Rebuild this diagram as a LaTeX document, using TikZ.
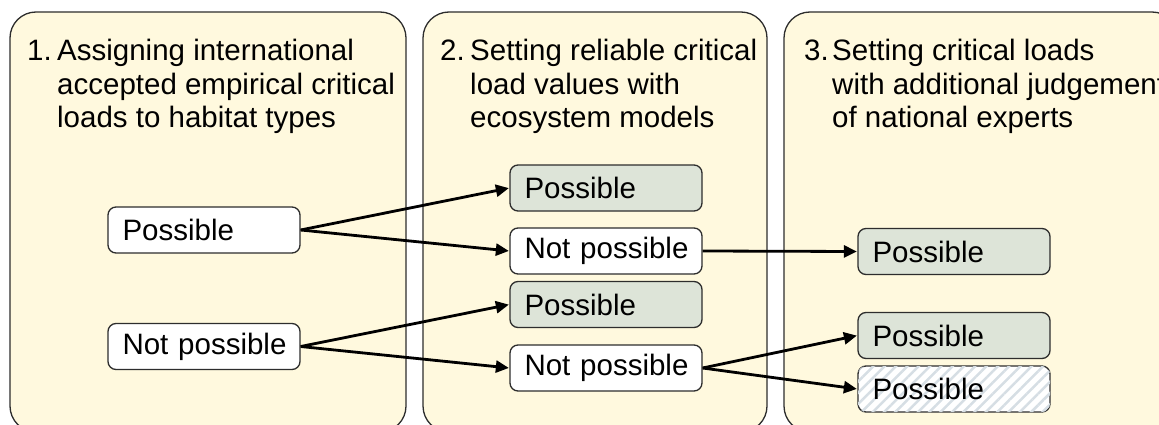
\documentclass[tikz,border=0pt]{standalone}
\usepackage{fontspec}
\setmainfont{Liberation Sans}
\usetikzlibrary{arrows.meta,patterns.meta}
\definecolor{panelfill}{RGB}{255,249,222}
\definecolor{boxgreen}{RGB}{221,228,216}
\definecolor{edgecol}{RGB}{45,45,45}
\definecolor{hatchcol}{RGB}{214,222,228}
\begin{document}
\begin{tikzpicture}[x=1pt,y=-1pt,
  panel/.style={draw=edgecol, line width=1.3pt, fill=panelfill, rounded corners=26pt},
  stepbox/.style={draw=edgecol, line width=1.3pt, rounded corners=8pt, fill=white,
    minimum height=46pt, text width=163pt, inner xsep=14.5pt, inner ysep=0pt, align=left,
    font=\fontsize{29.5}{34}\selectfont},
  greenbox/.style={stepbox, fill=boxgreen},
  hatchbox/.style={stepbox, fill=white,
    postaction={pattern={Lines[angle=45,distance=8pt,line width=2.5pt]}, pattern color=hatchcol}},
  title/.style={anchor=base west, inner sep=0pt, font=\fontsize{29.5}{33.5}\selectfont},
  numlabel/.style={anchor=base east, inner sep=0pt, font=\fontsize{29.5}{33.5}\selectfont},
  conn/.style={line width=2.8pt, draw=black, -{Triangle[length=13pt,width=12pt]}, shorten >=0.5pt}
]
\useasboundingbox (0,0) rectangle (1159,425);
\fill[white] (0,0) rectangle (1159,425);
\begin{scope}
\clip (0,0) rectangle (1159,425);
\draw[panel] (10,12) rectangle (406,432);
\draw[panel] (423,12) rectangle (767,432);
\draw[panel] (784,12) rectangle (1178,432);

\node[numlabel] (n1) at (52,61) {1.};
\node[title] (t1) at (57,61) {\begin{tabular}[t]{@{}l@{}}Assigning international\\accepted empirical critical\\loads to habitat types\end{tabular}};
\node[numlabel] (n2) at (465,61) {2.};
\node[title] (t2) at (470,61) {\begin{tabular}[t]{@{}l@{}}Setting reliable critical\\load values with\\ecosystem models\end{tabular}};
\node[numlabel] (n3) at (829,61) {3.};
\node[title] (t3) at (832,61) {\begin{tabular}[t]{@{}l@{}}Setting critical loads\\with additional judgement\\of national experts\end{tabular}};

\node[stepbox] (a1) at (204,230) {Possible};
\node[stepbox] (a2) at (204,346.5) {\mbox{Not possible}};

\node[greenbox] (b1) at (606,188) {Possible};
\node[stepbox] (b2) at (606,251) {\mbox{Not possible}};
\node[greenbox] (b3) at (606,304.5) {Possible};
\node[stepbox] (b4) at (606,368) {\mbox{Not possible}};

\node[greenbox] (c1) at (954,251.5) {Possible};
\node[greenbox] (c2) at (954,335.5) {Possible};
\node[hatchbox] (c3) at (954,389) {Possible};

\draw[conn] (a1.east) -- (b1.west);
\draw[conn] (a1.east) -- (b2.west);
\draw[conn] (a2.east) -- (b3.west);
\draw[conn] (a2.east) -- (b4.west);
\draw[conn] (b2.east) -- (c1.west);
\draw[conn] (b4.east) -- (c2.west);
\draw[conn] (b4.east) -- (c3.west);
\end{scope}
\end{tikzpicture}
\end{document}
